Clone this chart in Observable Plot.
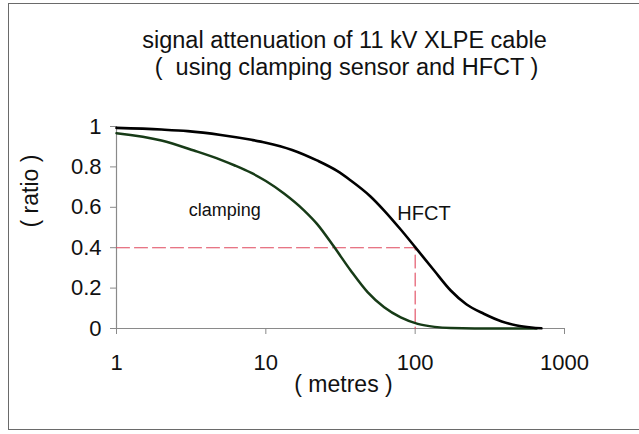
<!DOCTYPE html>
<html>
<head>
<meta charset="utf-8">
<script src="https://cdn.jsdelivr.net/npm/d3@7"></script>
<script src="https://cdn.jsdelivr.net/npm/@observablehq/plot@0.6"></script>
<style>
  html, body { margin: 0; padding: 0; background: #fff; overflow: hidden; }
  #wrap { position: relative; width: 639px; height: 434px; overflow: hidden; }
  #border { position: absolute; left: 8px; top: 3px; width: 660px; height: 427px; border: 1.5px solid #6a6a6a; box-sizing: border-box; }
  #chart { position: absolute; left: 0; top: 0; }
</style>
</head>
<body>
<div id="wrap"><div id="border"></div><div id="chart"></div></div>
<script>
// ---- data ----
const titleLines = ["signal attenuation of 11 kV XLPE cable", "(  using clamping sensor and HFCT )"];
const xLabel = "( metres )";
const yLabel = "( ratio )";
const xTicks = [1, 10, 100, 1000];
const yTicks = [0, 0.2, 0.4, 0.6, 0.8, 1];

const hfctDist  = [1, 2, 3, 5, 8, 10, 15, 22, 30, 37, 50, 62, 80, 100, 134, 173, 220, 288, 380, 480, 600, 700];
const hfctRatio = [0.993, 0.985, 0.977, 0.958, 0.934, 0.92, 0.884, 0.832, 0.78, 0.733, 0.655, 0.584, 0.49, 0.403, 0.287, 0.188, 0.12, 0.073, 0.035, 0.015, 0.005, 0.001];

const clampDist  = [1, 2, 3.3, 5, 6.2, 8, 10, 13.3, 18, 22, 28.7, 37, 48, 62, 80, 104, 135, 173, 250, 650];
const clampRatio = [0.967, 0.931, 0.881, 0.835, 0.807, 0.77, 0.73, 0.667, 0.585, 0.518, 0.403, 0.287, 0.18, 0.105, 0.055, 0.023, 0.008, 0.002, 0, 0];

const guideX = [1, 100, 100];
const guideY = [0.4, 0.4, 0];

const curveNames = ["clamping", "HFCT"];
const curveLabelX = [3.05, 76];
const curveLabelY = [0.584, 0.569];

// ---- build tables ----
const hfct = hfctDist.map((d, i) => ({d, r: hfctRatio[i]}));
const clamp = clampDist.map((d, i) => ({d, r: clampRatio[i]}));
const guide = guideX.map((d, i) => ({d, r: guideY[i]}));
const labels = curveNames.map((n, i) => ({n, d: curveLabelX[i], r: curveLabelY[i]}));

const font = "'Liberation Sans', Arial, Helvetica, sans-serif";

const chart = Plot.plot({
  width: 639,
  height: 434,
  marginLeft: 116,
  marginRight: 75,
  marginTop: 126,
  marginBottom: 106,
  style: {fontFamily: font, fontSize: "22px", background: "transparent", overflow: "visible", color: "#000"},
  x: {type: "log", domain: [1, 1000]},
  y: {domain: [0, 1]},
  marks: [
    Plot.ruleY([0], {stroke: "#8a8a8a", strokeWidth: 1.2}),
    Plot.ruleX([1], {stroke: "#8a8a8a", strokeWidth: 1.2}),
    Plot.axisX(xTicks, {tickSize: 6, tickPadding: 20, stroke: "#8a8a8a", fill: "#111", fontSize: 22, tickFormat: d => String(d), label: null}),
    Plot.axisY(yTicks, {tickSize: 6, tickPadding: 9, stroke: "#8a8a8a", fill: "#111", fontSize: 22, tickFormat: d => String(d), label: null}),
    Plot.line(guide, {x: "d", y: "r", stroke: "#e0485e", strokeWidth: 1.1, strokeDasharray: "13,5"}),
    Plot.line(clamp, {x: "d", y: "r", stroke: "#173b17", strokeWidth: 2.5, curve: "monotone-x", strokeLinejoin: "round"}),
    Plot.line(hfct, {x: "d", y: "r", stroke: "#000", strokeWidth: 2.6, curve: "monotone-x", strokeLinejoin: "round"}),
    Plot.text(labels, {x: "d", y: "r", text: "n", textAnchor: "start", fontSize: (d) => d.n === "HFCT" ? 20 : 18, fill: "#111"}),
    Plot.text([xLabel], {frameAnchor: "bottom", dy: 63, dx: 3, text: d => d, fontSize: 23, fill: "#111"}),
    Plot.text([yLabel], {frameAnchor: "left", dx: -86, rotate: -90, text: d => d, fontSize: 23, fill: "#111"}),
    Plot.text([titleLines[0]], {frameAnchor: "top", dx: 4, dy: -95.5, text: d => d, fontSize: 23.5, fill: "#111"}),
    Plot.text([titleLines[1]], {frameAnchor: "top", dx: 6, dy: -68.5, text: d => d, fontSize: 23.5, fill: "#111"})
  ]
});
document.getElementById("chart").appendChild(chart);
</script>
</body>
</html>
